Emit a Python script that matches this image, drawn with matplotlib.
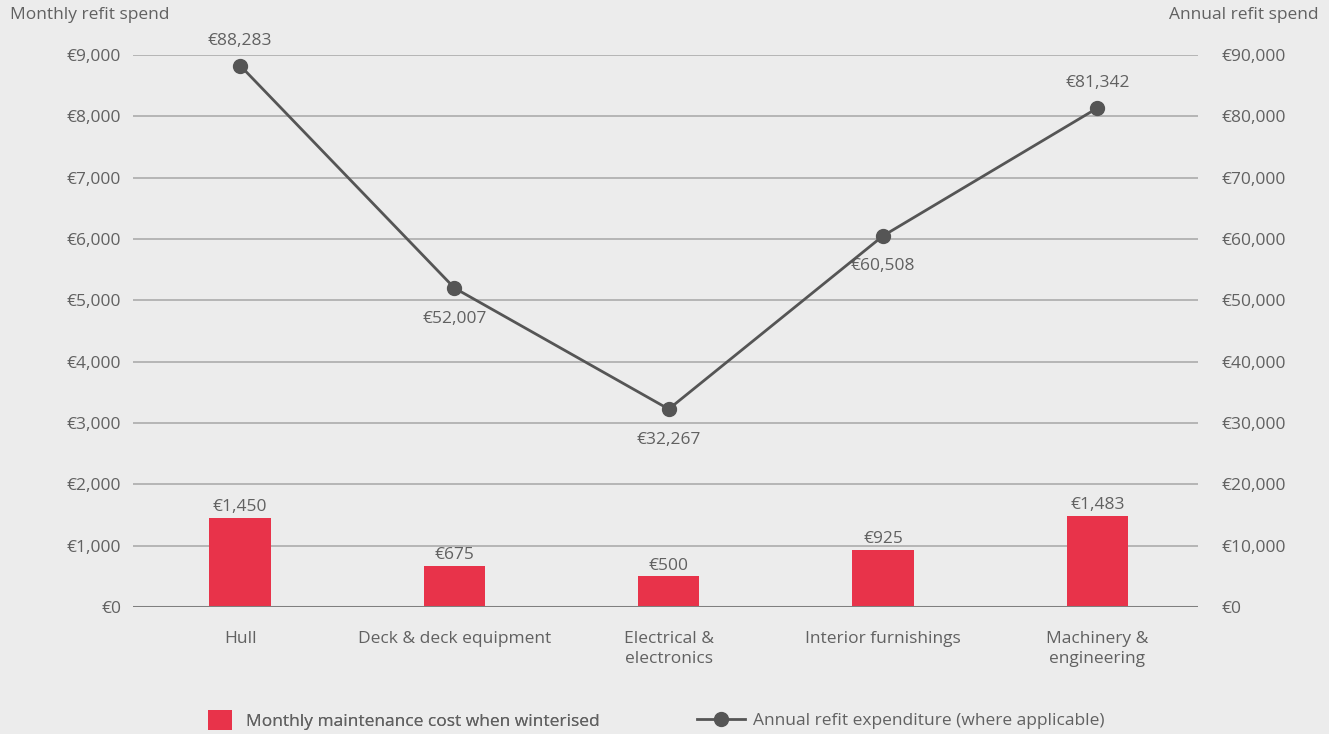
import matplotlib.pyplot as plt
from matplotlib.lines import Line2D
from matplotlib.patches import Patch
from matplotlib.ticker import FuncFormatter

categories = ["Hull", "Deck & deck equipment", "Electrical &\nelectronics",
              "Interior furnishings", "Machinery &\nengineering"]
monthly_cost = [1450, 675, 500, 925, 1483]
annual_refit = [88283, 52007, 32267, 60508, 81342]
# where the annual label sits relative to its point
annual_label_pos = ["above", "below", "below", "below", "above"]

BG = "#ececec"
RED = "#e8334a"
LINE = "#555555"
TEXT = "#616161"
FS = 12.5

plt.rcParams["font.family"] = ["Open Sans", "DejaVu Sans"]

fig = plt.figure(figsize=(13.29, 7.34), dpi=100, facecolor=BG)
ax = fig.add_axes([133 / 1329, 1 - 607 / 734, 1065 / 1329, 552 / 734])
ax.set_facecolor(BG)
ax2 = ax.twinx()

x = list(range(len(categories)))

ax.set_xlim(-0.5, len(categories) - 0.53)
ax.set_ylim(0, 9000)
ax2.set_ylim(0, 90000)
ax.set_yticks(range(0, 9001, 1000))
ax2.set_yticks(range(0, 90001, 10000))
ax.yaxis.set_major_formatter(FuncFormatter(lambda v, p: f"€{v:,.0f}"))
ax2.yaxis.set_major_formatter(FuncFormatter(lambda v, p: f"€{v:,.0f}"))

ax.grid(axis="y", color="#a6a6a6", linewidth=1.1, zorder=0)
ax.set_axisbelow(True)
for a in (ax, ax2):
    for s in a.spines.values():
        s.set_visible(False)
    a.tick_params(axis="y", length=0, labelsize=FS, labelcolor=TEXT)
ax.tick_params(axis="y", pad=8.5)
ax2.tick_params(axis="y", pad=17)
ax.axhline(0, color="#7f7f7f", linewidth=2.2, zorder=3)

ax.set_xticks(x)
ax.set_xticklabels(categories, fontsize=FS, color=TEXT, linespacing=1.4)
ax.tick_params(axis="x", length=0, pad=17)

# monthly cost bars
ax.bar(x, monthly_cost, width=0.286, color=RED, zorder=2)
for xi, v in zip(x, monthly_cost):
    ax.annotate(f"€{v:,}", (xi, v), xytext=(0, 2), textcoords="offset points",
                ha="center", va="bottom", fontsize=FS, color=TEXT)

# annual refit line
ax2.plot(x, annual_refit, color=LINE, linewidth=2, marker="o", markersize=10, zorder=4)
for xi, v, pos in zip(x, annual_refit, annual_label_pos):
    dy = 18 if pos == "above" else -22
    ax2.annotate(f"€{v:,}", (xi, v), xytext=(0, dy), textcoords="offset points",
                 ha="center", va="center", fontsize=FS, color=TEXT,
                 bbox=dict(boxstyle="square,pad=0.2", fc=BG, ec="none"))

fig.text(10 / 1329, 1 - 15 / 734, "Monthly refit spend", ha="left", va="center",
         fontsize=FS, color=TEXT)
fig.text(1319 / 1329, 1 - 15 / 734, "Annual refit spend", ha="right", va="center",
         fontsize=FS, color=TEXT)

# legend entries, each with its own handle size
leg1 = fig.legend([Patch(facecolor=RED, edgecolor="none")],
                  ["Monthly maintenance cost when winterised"],
                  loc="center left", bbox_to_anchor=(208 / 1329, 1 - 720 / 734),
                  frameon=False, fontsize=FS, labelcolor=TEXT,
                  handlelength=1.38, handleheight=1.38, handletextpad=0.8,
                  borderpad=0, borderaxespad=0)
leg2 = fig.legend([Line2D([], [], color=LINE, linewidth=2, marker="o", markersize=10)],
                  ["Annual refit expenditure (where applicable)"],
                  loc="center left", bbox_to_anchor=(697 / 1329, 1 - 721 / 734),
                  frameon=False, fontsize=FS, labelcolor=TEXT,
                  handlelength=2.75, handletextpad=0.5,
                  borderpad=0, borderaxespad=0)
fig.add_artist(leg1)

fig.savefig("out.png", dpi=100, facecolor=BG)
